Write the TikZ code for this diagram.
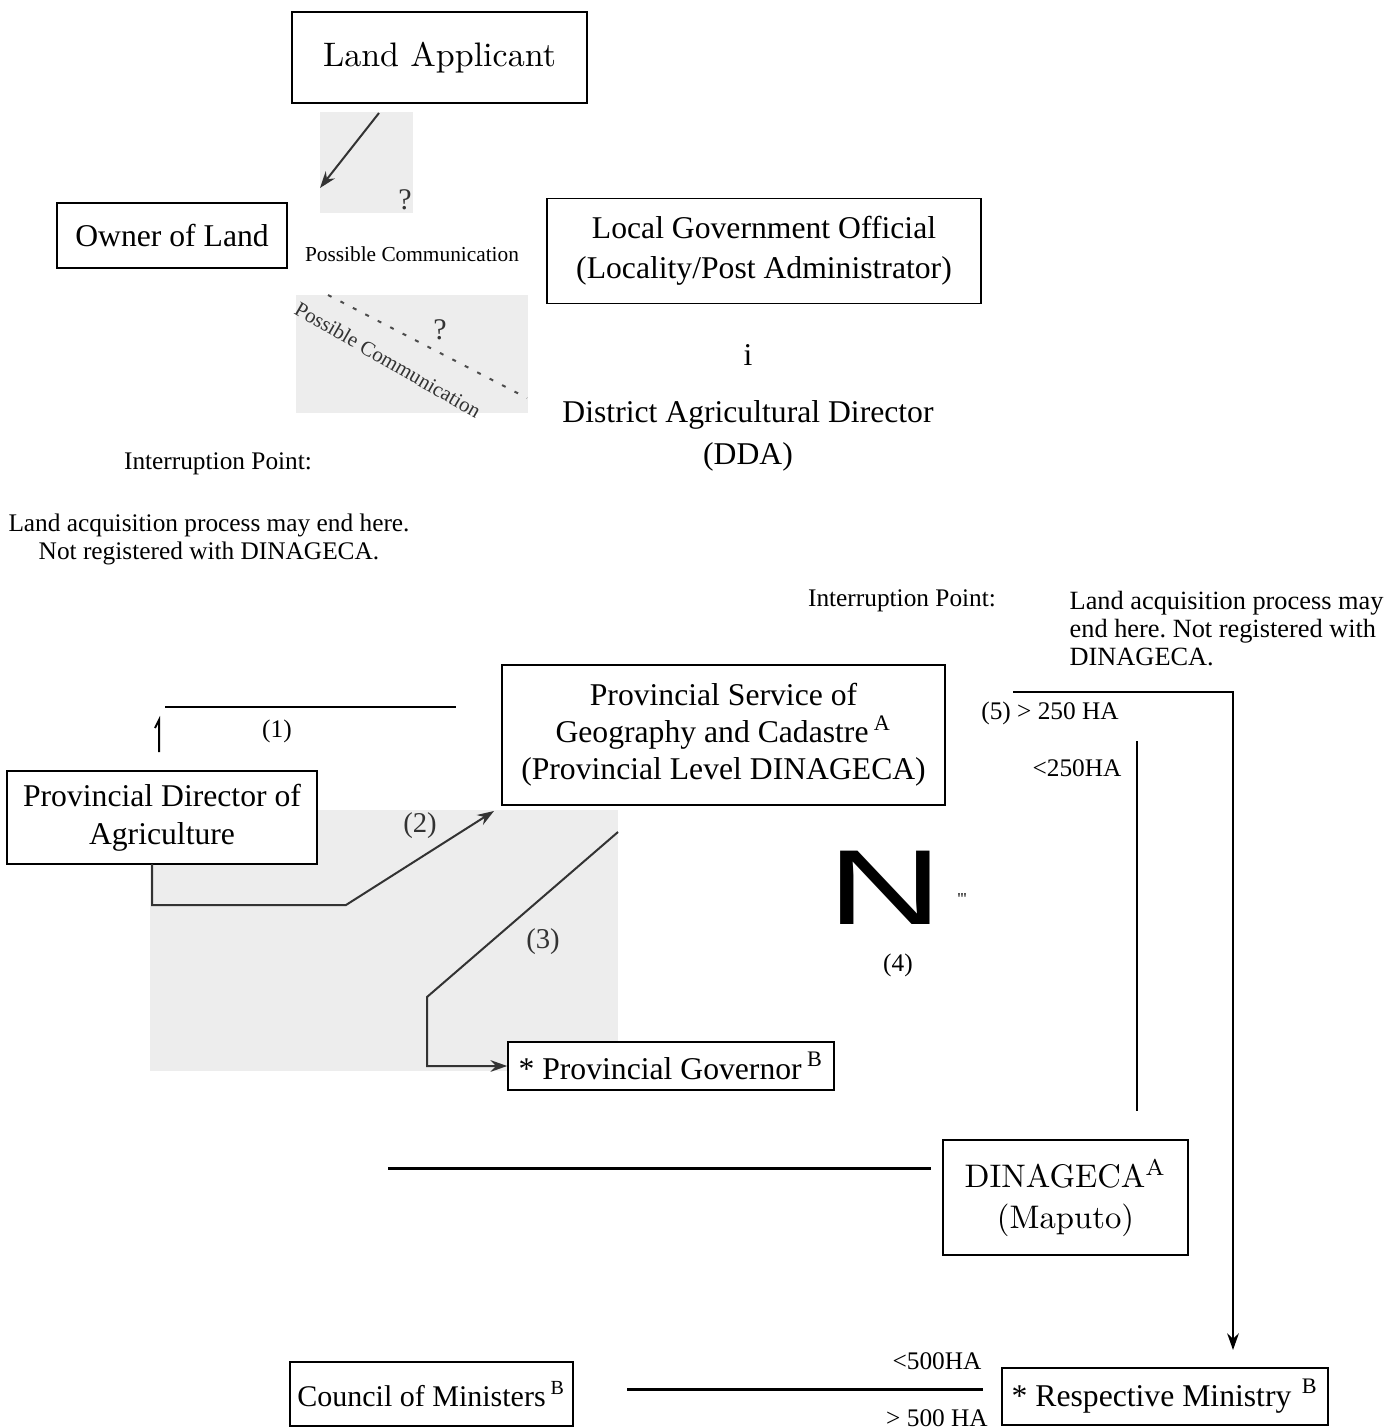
\documentclass[tikz,border=0pt]{standalone}
\usepackage{fontspec}
\setmainfont{Liberation Serif}
\newfontfamily\arialfont{Liberation Sans}
\newcommand\lmfont{\fontfamily{lmr}\selectfont}
\usetikzlibrary{arrows.meta}
\frenchspacing

\begin{document}
\begin{tikzpicture}[
  x=0.3pt, y=-0.3pt,
  box/.style={draw, line width=0.5pt, fill=white, inner sep=0pt, align=center,
    font=\fontsize{9.5}{11.3}\selectfont},
  note/.style={inner sep=0pt, align=center, font=\fontsize{7.6}{8.4}\selectfont},
  scanned/.style={fill=black!7},
  link/.style={draw, line width=0.6pt},
  heavy/.style={draw, line width=0.9pt},
  tip/.style={-{Stealth[length=5pt,width=3.5pt]}}
]
\useasboundingbox (0,0) rectangle (1391,1428);

% scanned patches
\fill[scanned] (320,112) rectangle (413,213);
\fill[scanned] (296,295) rectangle (528,413);
\fill[scanned] (150,810) rectangle (618,1071);

% Top: applicant and local level
\node[box, minimum width=88.5pt, minimum height=27.3pt, font=\lmfont\fontsize{10.2}{12}\selectfont]
  (applicant) at (439.5,57.5) {Land Applicant};
\node[box, minimum width=69pt, minimum height=19.5pt] (owner) at (172,235.5) {Owner of Land};
\node[box, minimum width=130.2pt, minimum height=31.5pt, font=\fontsize{9.5}{12}\selectfont]
  (localgov) at (764,251) {Local Government Official\\(Locality/Post Administrator)};

\coordinate (c1a) at (379,113);
\coordinate (c1b) at (320,188);
\draw[link, black!80, tip] (c1a) -- (c1b);
\node[font=\fontsize{9}{9}\selectfont, black!80] (q1) at (405,200) {?};
\node[font=\fontsize{6.4}{7}\selectfont] (poss) at (412,254) {Possible Communication};

\coordinate (d1) at (328,295);
\coordinate (d2) at (527,398);
\draw[black!70, line width=0.6pt, dash pattern=on 1.2pt off 3pt] (d1) -- (d2);
\node[rotate=-30, inner sep=0pt, font=\fontsize{6.3}{7}\selectfont, black!80] (poss2) at (388,360) {Possible Communication};
\node[font=\fontsize{9}{9}\selectfont, black!80] (q2) at (440,330) {?};

\node[font=\fontsize{9.5}{12}\selectfont] (iota) at (748,355) {i};
\node[align=center, font=\fontsize{9.5}{12.6}\selectfont] (dda) at (748,436) {District Agricultural Director\\(DDA)};

% Interruption points
\node[note] (intL) at (218,464) {Interruption Point:};
\node[note] (intLtxt) at (209,539) {Land acquisition process may end here.\\Not registered with DINAGECA.};
\node[note] (intR) at (902,601) {Interruption Point:};
\node[note, align=left, anchor=west, font=\fontsize{7.9}{8.4}\selectfont] (intRtxt) at (1069,629) {Land acquisition process may\\end here. Not registered with\\DINAGECA.};

% Provincial level
\node[box, minimum width=132.9pt, minimum height=42pt, font=\fontsize{9.5}{11.1}\selectfont]
  (provserv) at (723.5,735) {Provincial Service of\\Geography and Cadastre\,\textsuperscript{A}\\(Provincial Level DINAGECA)};
\node[box, minimum width=93pt, minimum height=27.9pt] (provdir) at (162,817.5) {Provincial Director of\\Agriculture};
\node[box, minimum width=97.8pt, minimum height=14.4pt] (governor) at (671,1066) {* Provincial Governor\,\textsuperscript{B}};

\coordinate (l1a) at (165,707);
\coordinate (l1b) at (456,707);
\draw[link] (l1a) -- (l1b);
\node[note] (n1) at (277,731) {(1)};
\coordinate (h1) at (155,728);
\coordinate (h2) at (159,720);
\coordinate (h3) at (159,752);
\draw[link] (h1) -- (h2) -- (h3);

\coordinate (l2a) at (152,864);
\coordinate (l2b) at (152,905);
\coordinate (l2c) at (346,905);
\coordinate (l2d) at (494,811);
\draw[link, black!80, tip] (l2a) -- (l2b) -- (l2c) -- (l2d);
\node[note, black!80, font=\fontsize{8.6}{9}\selectfont] (n2) at (420,826) {(2)};

\coordinate (l3a) at (618,832);
\coordinate (l3b) at (427,997);
\coordinate (l3c) at (427,1066);
\draw[link, black!80, tip] (l3a) -- (l3b) -- (l3c) -- (governor.west);
\node[note, black!80, font=\fontsize{8.6}{9}\selectfont] (n3) at (543,942) {(3)};

% Step (4)
\node[font=\arialfont\fontsize{32}{32}\selectfont, xscale=1.5] (bigN) at (885,888) {N};
\node[font=\fontsize{5}{5}\selectfont] (ticks) at (962,899) {\textquotesingle\textquotesingle\textquotesingle};
\node[note] (n4) at (898,965) {(4)};

% Step (5) and national level
\node[note] (n5) at (1050,713) {(5) > 250 HA};
\node[note] (lt250) at (1077,768) {<250HA};
\coordinate (l5a) at (1013,692);
\coordinate (l5b) at (1233,692);
\coordinate (l5c) at (1233,1350);
\draw[link, tip] (l5a) -- (l5b) -- (l5c);
\coordinate (v1) at (1137,741);
\coordinate (v2) at (1137,1111);
\draw[link] (v1) -- (v2);

\node[box, minimum width=73.5pt, minimum height=34.5pt, font=\lmfont\fontsize{9.8}{12.3}\selectfont]
  (dinageca) at (1065.5,1197.5) {DINAGECA\textsuperscript{A}\\(Maputo)};
\coordinate (l6a) at (388,1168);
\coordinate (l6b) at (931,1168);
\draw[heavy] (l6a) -- (l6b);

\node[box, minimum width=84.9pt, minimum height=19.2pt, font=\fontsize{9}{11}\selectfont] (council) at (431.5,1394) {Council of Ministers\,\textsuperscript{B}};
\node[box, minimum width=97.8pt, minimum height=17.1pt] (ministry) at (1165,1396.5) {* Respective Ministry\,\,\textsuperscript{B}};
\coordinate (l7a) at (627,1389);
\coordinate (l7b) at (983,1389);
\draw[heavy] (l7a) -- (l7b);
\node[note] (lt500) at (937,1361) {<500HA};
\node[note] (gt500) at (937,1418) {> 500 HA};
\end{tikzpicture}
\end{document}
